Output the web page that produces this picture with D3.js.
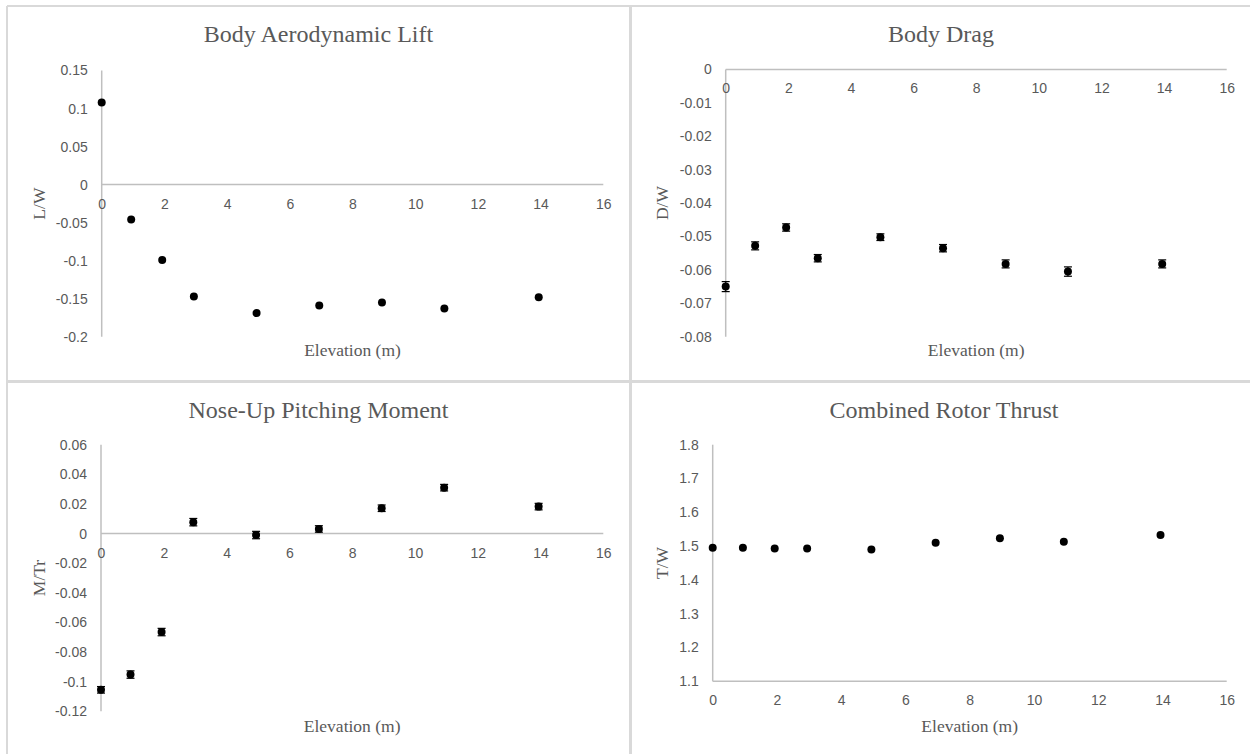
<!DOCTYPE html>
<html>
<head>
<meta charset="utf-8">
<script src="https://cdn.jsdelivr.net/npm/d3@7"></script>
<style>
  body { margin: 0; background: #fff; }
  svg { display: block; }
  .tick text { font-family: "Liberation Sans", Arial, sans-serif; font-size: 14px; fill: #595959; }
  .domain { stroke: #bfbfbf; stroke-width: 1.5; }
  .title { font-family: "Liberation Serif", "Times New Roman", serif; font-size: 24px; fill: #595959; }
  .axis-title { font-family: "Liberation Serif", "Times New Roman", serif; font-size: 17.5px; fill: #595959; }
</style>
</head>
<body>
<div id="chart"></div>
<script>
// elevations (m), shared by all four plots
const elevation = [0, 0.94, 1.93, 2.94, 4.94, 6.94, 8.94, 10.93, 13.94];

// body aerodynamic lift
const liftW = [0.108, -0.046, -0.099, -0.147, -0.169, -0.159, -0.155, -0.163, -0.148];
// body drag
const dragW = [-0.065, -0.0528, -0.0473, -0.0565, -0.0502, -0.0535, -0.0582, -0.0605, -0.0582];
const dragErr = [0.0015, 0.0012, 0.0011, 0.0011, 0.001, 0.0011, 0.0012, 0.0014, 0.0012];
// nose-up pitching moment
const momentTr = [-0.1055, -0.0952, -0.0665, 0.0077, -0.001, 0.0031, 0.0171, 0.031, 0.0182];
const momentErr = [0.0022, 0.0025, 0.0025, 0.0025, 0.0025, 0.0022, 0.0022, 0.0022, 0.0022];
// combined rotor thrust
const thrustW = [1.495, 1.495, 1.493, 1.493, 1.49, 1.51, 1.523, 1.513, 1.533];

const xTicks = [0, 2, 4, 6, 8, 10, 12, 14, 16];

let width = 1250
let height = 754

let grey = "#595959"
let borderColor = "#d9d9d9"

let svg = d3.select("#chart").append("svg")
    .attr("width", width)
    .attr("height", height);

// panel frames
svg.append("line").attr("x1", 7).attr("x2", width).attr("y1", 6).attr("y2", 6)
    .attr("stroke", borderColor).attr("stroke-width", 2);
svg.append("line").attr("x1", 7).attr("x2", 7).attr("y1", 6).attr("y2", height)
    .attr("stroke", borderColor).attr("stroke-width", 2);
svg.append("line").attr("x1", 630.5).attr("x2", 630.5).attr("y1", 6).attr("y2", height)
    .attr("stroke", borderColor).attr("stroke-width", 3);
svg.append("line").attr("x1", 7).attr("x2", width).attr("y1", 381.5).attr("y2", 381.5)
    .attr("stroke", borderColor).attr("stroke-width", 3);

let fmt = v => String(Math.round(v * 1000) / 1000);

let panels = [
    {
        title: "Body Aerodynamic Lift", yLabel: "L/W", values: liftW, errors: null,
        yDomain: [-0.2, 0.15], yStep: 0.05,
        left: 101.7, right: 603.3, top: 70.5, bottom: 336.7,
        cx: 318.5, titleY: 42, yLabelX: 45, xLabelY: 356, xAt: 0
    },
    {
        title: "Body Drag", yLabel: "D/W", values: dragW, errors: dragErr,
        yDomain: [-0.08, 0], yStep: 0.01,
        left: 725.7, right: 1226.7, top: 69.5, bottom: 336.7,
        cx: 941, titleY: 42, yLabelX: 668, xLabelY: 356, xAt: 0
    },
    {
        title: "Nose-Up Pitching Moment", yLabel: "M/Tr", values: momentTr, errors: momentErr,
        yDomain: [-0.12, 0.06], yStep: 0.02,
        left: 101, right: 603.3, top: 444.7, bottom: 711.3,
        cx: 318.5, titleY: 418, yLabelX: 45, xLabelY: 732, xAt: 0
    },
    {
        title: "Combined Rotor Thrust", yLabel: "T/W", values: thrustW, errors: null,
        yDomain: [1.1, 1.8], yStep: 0.1,
        left: 712.7, right: 1226.7, top: 444.7, bottom: 681.3,
        cx: 944, titleY: 418, yLabelX: 668, xLabelY: 732, xAt: 1.1
    }
];

panels.forEach(p => {
    let g = svg.append("g");

    let x = d3.scaleLinear().domain([0, 16]).range([p.left, p.right]);
    let y = d3.scaleLinear().domain(p.yDomain).range([p.bottom, p.top]);

    let yTicks = d3.range(p.yDomain[0], p.yDomain[1] + p.yStep / 2, p.yStep);

    // y axis
    g.append("g")
        .attr("transform", `translate(${p.left},0)`)
        .call(d3.axisLeft(y).tickValues(yTicks).tickFormat(fmt).tickSize(0).tickPadding(14))
        .call(a => a.select(".domain").attr("d", `M0,${p.bottom}V${p.top}`));

    // x axis, crossing at xAt
    g.append("g")
        .attr("transform", `translate(0,${y(p.xAt)})`)
        .call(d3.axisBottom(x).tickValues(xTicks).tickFormat(fmt).tickSize(0).tickPadding(14))
        .call(a => a.select(".domain").attr("d", `M${p.left},0H${p.right}`));

    g.selectAll(".tick text").attr("fill", grey);

    // titles
    g.append("text").attr("class", "title")
        .attr("x", p.cx).attr("y", p.titleY)
        .attr("text-anchor", "middle")
        .text(p.title);

    g.append("text").attr("class", "axis-title")
        .attr("x", (p.left + p.right) / 2).attr("y", p.xLabelY)
        .attr("text-anchor", "middle")
        .text("Elevation (m)");

    g.append("text").attr("class", "axis-title")
        .attr("transform", `translate(${p.yLabelX},${(p.top + p.bottom) / 2}) rotate(-90)`)
        .attr("text-anchor", "middle")
        .text(p.yLabel);

    let pts = elevation.map((e, i) => ({ x: e, y: p.values[i], err: p.errors ? p.errors[i] : 0 }));

    // error bars
    if (p.errors) {
        let eb = g.selectAll(".err").data(pts).enter().append("g").attr("class", "err")
            .attr("stroke", "#000").attr("stroke-width", 1.2);
        eb.append("line")
            .attr("x1", d => x(d.x)).attr("x2", d => x(d.x))
            .attr("y1", d => y(d.y - d.err)).attr("y2", d => y(d.y + d.err));
        eb.append("line")
            .attr("x1", d => x(d.x) - 4).attr("x2", d => x(d.x) + 4)
            .attr("y1", d => y(d.y - d.err)).attr("y2", d => y(d.y - d.err));
        eb.append("line")
            .attr("x1", d => x(d.x) - 4).attr("x2", d => x(d.x) + 4)
            .attr("y1", d => y(d.y + d.err)).attr("y2", d => y(d.y + d.err));
    }

    g.selectAll(".dot").data(pts).enter().append("circle")
        .attr("class", "dot")
        .attr("cx", d => x(d.x))
        .attr("cy", d => y(d.y))
        .attr("r", 4)
        .attr("fill", "#000");
});
</script>
</body>
</html>
